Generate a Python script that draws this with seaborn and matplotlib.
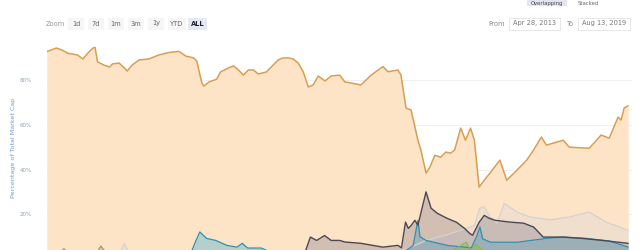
import matplotlib
matplotlib.use("Agg")
import matplotlib.pyplot as plt
import seaborn as sns
import pandas as pd
from matplotlib.patches import Rectangle

# ---------------- data ----------------
btc_dates = ["2013-04-28","2013-06-05","2013-06-28","2013-07-20","2013-08-28","2013-09-18","2013-10-08",
             "2013-10-28","2013-11-05","2013-11-15","2013-11-28","2013-12-10","2014-01-01","2014-01-13",
             "2014-02-08","2014-03-01","2014-03-12","2014-04-01","2014-04-28","2014-06-06","2014-07-15",
             "2014-08-24","2014-10-02","2014-10-30","2014-11-30","2014-12-12","2014-12-20","2015-01-01",
             "2015-01-09","2015-01-29","2015-03-01","2015-03-16","2015-04-16","2015-05-06","2015-05-26",
             "2015-06-14","2015-07-04","2015-07-24","2015-08-12","2015-09-13","2015-10-10","2015-10-30",
             "2015-11-19","2015-12-09","2015-12-28","2016-01-17","2016-02-06","2016-02-26","2016-03-16",
             "2016-04-05","2016-05-02","2016-05-26","2016-06-29","2016-07-19","2016-09-21","2016-10-31",
             "2016-12-17","2017-01-06","2017-02-14","2017-02-26","2017-03-18","2017-04-07","2017-05-04",
             "2017-05-16","2017-06-05","2017-06-20","2017-07-10","2017-08-02","2017-08-22","2017-09-10",
             "2017-09-26","2017-10-20","2017-11-08","2017-11-28","2017-12-13","2017-12-17","2018-01-01",
             "2018-01-21","2018-02-13","2018-03-24","2018-04-20","2018-05-30","2018-07-08","2018-08-04",
             "2018-09-04","2018-09-24","2018-11-29","2018-12-23","2019-03-12","2019-04-28","2019-05-30",
             "2019-07-04","2019-07-16","2019-07-28","2019-08-13"]
btc_vals = [92.7,94.3,93.4,92.0,91.2,89.4,92.1,
            94.3,94.6,88.1,87.4,86.7,85.8,87.2,
            87.6,85.4,84.0,86.7,89.0,89.4,91.2,
            92.3,92.8,90.7,89.9,88.5,84.5,78.7,
            77.3,79.1,80.4,83.6,85.4,86.3,84.5,
            82.2,84.5,84.5,82.7,83.6,86.7,89.0,
            89.9,89.9,89.4,87.6,83.6,76.9,77.8,
            81.8,79.6,81.8,82.2,79.2,77.8,82.2,
            86.0,83.7,84.5,82.2,67.5,66.6,53.1,
            48.7,38.4,41.0,46.4,45.5,47.8,47.3,
            48.7,58.5,53.1,58.5,53.1,48.7,32.1,
            35.2,38.4,44.2,35.2,39.7,44.2,48.7,
            54.5,50.9,53.1,50.0,49.5,55.4,54.0,
            63.4,62.1,67.5,68.5]

eth_dates = ["2015-08-07","2015-12-01","2016-01-20","2016-02-16","2016-03-05","2016-03-30","2016-04-30",
             "2016-05-26","2016-06-29","2016-07-19","2016-09-21","2016-12-17","2017-02-14","2017-02-28",
             "2017-03-16","2017-03-27","2017-04-08","2017-04-22","2017-05-04","2017-06-05","2017-06-25",
             "2017-07-20","2017-08-27","2017-10-04","2017-11-04","2017-11-24","2017-12-06","2018-01-01",
             "2018-01-21","2018-02-10","2018-03-05","2018-05-03","2018-06-26","2018-08-04","2018-09-11",
             "2018-11-29","2019-02-14","2019-05-03","2019-08-13"]
eth_vals = [0.5,1.0,2.0,4.0,9.8,8.3,10.5,
            8.3,8.3,7.6,7.0,5.3,6.1,5.0,
            16.5,13.7,15.1,17.3,15.1,30.0,22.7,
            20.4,18.2,16.4,13.7,11.5,10.6,16.4,
            19.5,18.2,17.3,16.5,16.0,14.3,9.8,
            9.8,9.2,8.3,7.0]

oth_dates = ["2013-04-28","2014-02-15","2014-03-01","2014-03-15","2016-12-01","2017-03-01","2017-06-05",
             "2017-09-01","2017-12-13","2018-01-03","2018-01-21","2018-02-13","2018-03-13","2018-04-10",
             "2018-05-30","2018-07-20","2018-10-10","2018-12-23","2019-03-12","2019-05-18","2019-08-13"]
oth_vals = [1.0,3.5,7.0,3.5,2.0,3.5,8.3,
            11.0,15.0,22.7,23.3,18.8,16.0,24.9,
            21.0,18.8,17.5,18.8,21.0,16.5,12.8]

xrp_dates = ["2013-04-28","2014-11-20","2014-12-08","2014-12-24","2015-01-20","2015-02-25","2015-04-10",
             "2015-05-20","2015-06-10","2015-07-01","2015-08-24","2015-09-20","2016-06-01","2017-03-01",
             "2017-04-15","2017-05-04","2017-05-12","2017-06-05","2017-09-01","2017-12-01","2017-12-22",
             "2018-01-04","2018-01-15","2018-02-15","2018-06-01","2018-09-24","2018-11-29","2019-03-01",
             "2019-06-01","2019-08-13"]
xrp_vals = [3.0,3.0,8.0,12.1,9.2,8.3,6.1,
            5.3,7.0,4.9,4.9,3.5,2.0,2.5,
            6.0,17.3,10.0,8.3,6.0,5.0,10.0,
            14.3,9.0,7.5,7.5,9.2,9.8,9.2,
            8.0,5.3]

bch_dates = ["2017-08-01","2017-08-05","2017-09-15","2017-11-12","2017-11-25","2017-12-20","2018-01-10",
             "2018-03-01","2019-08-13"]
bch_vals = [0.0,4.0,3.5,7.6,4.0,6.5,4.0,3.0,1.5]

ltc_dates = ["2013-04-28","2013-06-20","2013-07-05","2013-07-20","2013-11-15","2013-11-28","2013-12-10",
             "2014-01-15","2014-06-01","2016-01-01"]
ltc_vals = [2.0,3.0,4.6,3.0,3.5,5.8,4.0,3.0,2.0,1.0]

zoom_labels = ["1d", "7d", "1m", "3m", "1y", "YTD", "ALL"]
date_from = "Apr 28, 2013"
date_to = "Aug 13, 2019"
y_ticks = [20, 40, 60, 80]

# ---------------- plot ----------------
sns.set_style("white")
W, H = 640, 250
fig = plt.figure(figsize=(6.4, 2.5), dpi=100)

def fx(px): return px / W
def fy(py): return 1 - py / H

# axes: 0% at y=259px, 100% at y=35px ; x from 46.7px to 632px
ax = fig.add_axes([fx(46.7), fy(259), fx(632) - fx(46.7), (259 - 35.3) / H])

series = [
    ("btc", btc_dates, btc_vals, "#d99d52", "#fde4c6", 1.0, 1.1),
    ("oth", oth_dates, oth_vals, "#d2d2d2", "#d8d8d8", 0.35, 0.9),
    ("ltc", ltc_dates, ltc_vals, "#a58f63", "#a58f63", 0.35, 0.8),
    ("xrp", xrp_dates, xrp_vals, "#2e8fb3", "#5fb8d2", 0.45, 0.9),
    ("eth", eth_dates, eth_vals, "#4b4654", "#7c7488", 0.33, 1.0),
    ("bch", bch_dates, bch_vals, "#86b94a", "#8cc152", 0.5, 0.8),
]

for name, d, v, lc, fc, fa, lw in series:
    df = pd.DataFrame({"date": pd.to_datetime(d), "pct": v})
    ax.fill_between(df["date"], df["pct"], 0, color=fc, alpha=fa, linewidth=0, zorder=1 if name == "btc" else 2)
for name, d, v, lc, fc, fa, lw in series:
    df = pd.DataFrame({"date": pd.to_datetime(d), "pct": v})
    sns.lineplot(data=df, x="date", y="pct", ax=ax, color=lc, linewidth=lw, zorder=3)

ax.set_xlim(pd.Timestamp("2013-04-28"), pd.Timestamp("2019-08-28"))
ax.set_ylim(0, 100)
ax.set_yticks(y_ticks)
ax.set_yticklabels([f"{t}%" for t in y_ticks], fontsize=4, color="#8ea3bd")
ax.tick_params(axis="y", length=0, pad=11)
ax.set_xticks([])
ax.set_xlabel("")
ax.set_ylabel("")
for s in ax.spines.values():
    s.set_visible(False)
for t in y_ticks:
    ax.axhline(t, color="#ececec", linewidth=0.6, zorder=0.5)
fig.text(fx(14), fy(148), "Percentage of Total Market Cap", rotation=90, fontsize=4.6,
         color="#6f9ad0", ha="center", va="center")

# ---------------- top controls ----------------
fs = 4.8
fig.text(fx(46), fy(23.5), "Zoom", fontsize=fs, color="#9a9a9a", ha="left", va="center")
btn_x = [68, 88, 108, 128, 148, 168, 188]
btn_w = [16, 16, 16, 16, 16, 18, 19]
for lab, bx, bw in zip(zoom_labels, btn_x, btn_w):
    sel = lab == "ALL"
    fig.add_artist(Rectangle((fx(bx), fy(30)), bw / W, 12 / H, transform=fig.transFigure,
                             facecolor="#e6e9f2" if sel else "#f6f6f6", edgecolor="none"))
    fig.text(fx(bx + bw / 2), fy(23.5), lab, fontsize=fs, ha="center", va="center",
             color="#222233" if sel else "#666666", fontweight="bold" if sel else "normal")

fig.text(fx(505), fy(23.5), "From", fontsize=fs, color="#8a8a8a", ha="right", va="center")
fig.add_artist(Rectangle((fx(509), fy(30)), 51 / W, 12 / H, transform=fig.transFigure,
                         facecolor="white", edgecolor="#dddddd", linewidth=0.5))
fig.text(fx(534.5), fy(23.5), date_from, fontsize=fs, color="#777777", ha="center", va="center")
fig.text(fx(574), fy(23.5), "To", fontsize=fs, color="#8a8a8a", ha="right", va="center")
fig.add_artist(Rectangle((fx(578), fy(30)), 52 / W, 12 / H, transform=fig.transFigure,
                         facecolor="white", edgecolor="#dddddd", linewidth=0.5))
fig.text(fx(604), fy(23.5), date_to, fontsize=fs, color="#777777", ha="center", va="center")

# controls at very top edge
fig.add_artist(Rectangle((fx(527), fy(6)), 40 / W, 6 / H, transform=fig.transFigure,
                         facecolor="#e3e6ee", edgecolor="none"))
fig.text(fx(547), fy(3.3), "Overlapping", fontsize=3.8, color="#444444", ha="center", va="center")
fig.text(fx(588), fy(3.3), "Stacked", fontsize=3.8, color="#666666", ha="center", va="center")

fig.savefig("out.png", dpi=100)
